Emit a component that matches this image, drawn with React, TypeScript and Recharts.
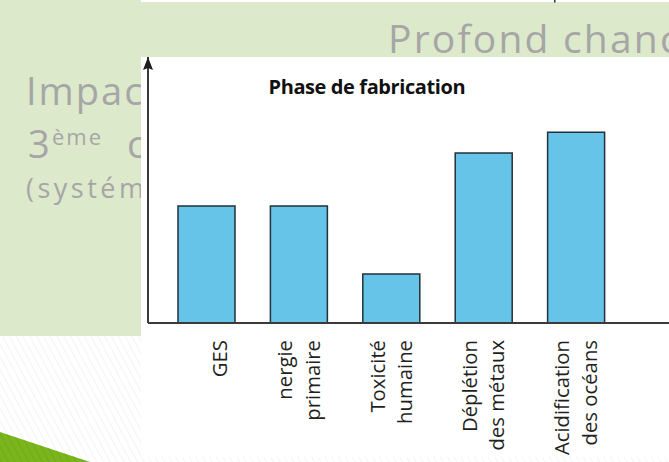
import React from 'react';
import { BarChart, Bar, XAxis, YAxis } from 'recharts';

// impact categories (line breaks as in the figure)
const categories = [
  'GES',
  'nergie\nprimaire',
  'Toxicité\nhumaine',
  'Déplétion\ndes métaux',
  'Acidification\ndes océans',
];
// relative impact (no scale on the axis)
const impacts = [44, 44, 18.4, 63.9, 71.7];

const chartData = categories.map((name, i) => ({ name, value: impacts[i] }));

const SLIDE_GREEN = '#dde9cb';
const SLIDE_GREY = '#a6a6a6';
const FONT = '"Open Sans", sans-serif';

const CategoryTick = (props: any) => {
  const { x, y, payload } = props;
  const lines = String(payload.value).split('\n');
  const n = lines.length;
  return (
    <g transform={`translate(${x},${y}) rotate(-90)`}>
      <text textAnchor="end" fontFamily={FONT} fontSize={20.3} fill="#231f20">
        {lines.map((line, i) => (
          <tspan key={i} x={-17} y={21 - (n - 1 - i) * 27.5}>
            {line}
          </tspan>
        ))}
      </text>
    </g>
  );
};

// arrow head on top of the y axis
const ArrowHead = (props: any) => {
  const vb = props.viewBox || {};
  const ax = (vb.x || 0) + (vb.width || 0);
  const ay = vb.y || 0;
  return (
    <path
      d={`M${ax},${ay} L${ax - 5},${ay + 13} L${ax},${ay + 11} L${ax + 5},${ay + 13} Z`}
      fill="#1e1e1e"
    />
  );
};

const App = () => {
  return (
    <div
      style={{
        position: 'absolute',
        left: 0,
        top: 0,
        width: 669,
        height: 462,
        overflow: 'hidden',
      }}
    >
      {/* slide behind the pasted figure */}
      <svg width={669} height={462} style={{ position: 'absolute', left: 0, top: 0 }}>
        <defs>
          <pattern id="stripes" width="6" height="6" patternUnits="userSpaceOnUse" patternTransform="rotate(-28)">
            <line x1="0" y1="0" x2="0" y2="6" stroke="#ededed" strokeWidth="1.2" />
          </pattern>
          <pattern id="greenStripes" width="6" height="6" patternUnits="userSpaceOnUse" patternTransform="rotate(-28)">
            <line x1="0" y1="0" x2="0" y2="6" stroke="#639e14" strokeWidth="1.5" />
          </pattern>
        </defs>
        <rect width={669} height={462} fill="#ffffff" />
        <rect width={669} height={462} fill="url(#stripes)" />
        <rect x={0} y={0} width={669} height={57} fill={SLIDE_GREEN} />
        <rect x={0} y={0} width={141} height={336} fill={SLIDE_GREEN} />
        <rect x={141} y={0} width={528} height={2} fill="#ffffff" />
        <rect x={554} y={0} width={1.5} height={2.5} fill="#333333" />

        <text x={388} y={53} fontFamily={FONT} fontSize={39} letterSpacing={2.2} fill={SLIDE_GREY}>
          Profond chanc
        </text>
        <text x={26} y={105} fontFamily={FONT} fontSize={38} letterSpacing={2} fill={SLIDE_GREY}>
          Impac
        </text>
        <text fontFamily={FONT} fill={SLIDE_GREY}>
          <tspan x={28} y={158} fontSize={38}>3</tspan>
          <tspan x={52} y={145} fontSize={22} letterSpacing={2}>ème </tspan>
          <tspan x={127} y={158} fontSize={38}>c</tspan>
        </text>
        <text x={26} y={198} fontFamily={FONT} fontSize={27} letterSpacing={3.5} fill={SLIDE_GREY}>
          (systém
        </text>

        <polygon points="0,432 90,462 0,462" fill="#7ab51d" />
        <polygon points="0,432 90,462 0,462" fill="url(#greenStripes)" opacity={0.6} />
      </svg>

      {/* the figure */}
      <div
        style={{
          position: 'absolute',
          left: 141,
          top: 57,
          width: 528,
          height: 400,
          background: '#ffffff',
        }}
      >
        <BarChart
          width={528}
          height={400}
          data={chartData}
          margin={{ top: 0, right: 0, left: 6, bottom: 0 }}
        >
          <XAxis
            dataKey="name"
            interval={0}
            height={134}
            padding={{ left: 12, right: 47 }}
            axisLine={{ stroke: '#3a3a3a', strokeWidth: 2 }}
            tickLine={false}
            tickSize={0}
            tickMargin={0}
            tick={<CategoryTick />}
          />
          <YAxis
            width={1}
            domain={[0, 100]}
            tick={false}
            tickLine={false}
            axisLine={{ stroke: '#3a3a3a', strokeWidth: 2 }}
            label={<ArrowHead />}
          />
          <Bar
            dataKey="value"
            barSize={57}
            fill="#66c4e8"
            stroke="#22313a"
            strokeWidth={1.5}
            isAnimationActive={false}
          />
        </BarChart>
      </div>

      {/* figure title */}
      <svg width={669} height={462} style={{ position: 'absolute', left: 0, top: 0, pointerEvents: 'none' }}>
        <text x={268.5} y={94} fontFamily={FONT} fontWeight={700} fontSize={20} letterSpacing={-0.4} fill="#111111">
          Phase de fabrication
        </text>
      </svg>
    </div>
  );
};

export default App;
